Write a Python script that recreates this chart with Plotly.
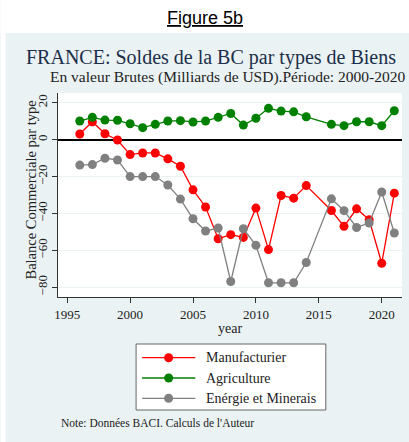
import plotly.graph_objects as go

years = [1996, 1997, 1998, 1999, 2000, 2001, 2002, 2003, 2004, 2005, 2006, 2007, 2008,
         2009, 2010, 2011, 2012, 2013, 2014, 2016, 2017, 2018, 2019, 2020, 2021]
manufacturier = [3.1, 9.7, 3.2, -0.2, -8.1, -7.2, -7.2, -10.4, -14.4, -27.2, -36.5, -53.7, -51.5,
                 -53.0, -37.1, -59.6, -30.3, -31.7, -24.9, -38.4, -47.0, -37.5, -43.4, -67.0, -29.0]
agriculture = [10.1, 12.1, 10.6, 10.5, 8.6, 6.5, 8.3, 10.1, 10.3, 9.6, 10.1, 12.1, 14.2,
               7.9, 11.6, 17.0, 15.5, 15.1, 12.4, 8.3, 7.6, 9.7, 9.7, 7.6, 15.7]
energie = [-13.8, -13.5, -10.1, -11.0, -20.0, -20.0, -20.0, -24.6, -32.2, -42.9, -49.5, -47.9, -76.9,
           -48.3, -57.3, -77.6, -77.6, -77.6, -66.6, -32.1, -38.5, -47.6, -45.2, -28.4, -50.6]
series_names = ["Manufacturier", "Agriculture", "Enérgie et Minerais"]
series_colors = ["#ff0000", "#008000", "#808080"]
yticks = [-80, -60, -40, -20, 0, 20]
xticks = [1995, 2000, 2005, 2010, 2015, 2020]

W, H = 409, 442
L, R, T, B = 57.5, 402, 93, 297


def px(X):
    return (X - L) / (R - L)


def py(Y):
    return (B - Y) / (B - T)


SERIF = "Liberation Serif"
BG = "#eaf2f3"
TXT = "#222222"

fig = go.Figure()
for name, vals, col in zip(series_names, [manufacturier, agriculture, energie], series_colors):
    fig.add_trace(go.Scatter(x=years, y=vals, mode="lines+markers", name=name,
                             line=dict(color=col, width=1.3),
                             marker=dict(color=col, size=9), showlegend=False))

shapes = [
    dict(type="rect", xref="paper", yref="paper", x0=px(0), x1=px(W), y0=py(33), y1=py(0),
         fillcolor="white", line=dict(width=0), layer="below"),
    dict(type="rect", xref="paper", yref="paper", x0=px(0), x1=px(5), y0=py(H), y1=py(0),
         fillcolor="white", line=dict(width=0), layer="below"),
    # legend box
    dict(type="rect", xref="paper", yref="paper", x0=px(135.7), x1=px(325.7), y0=py(410), y1=py(344),
         fillcolor="white", line=dict(color="#666666", width=1)),
]
annotations = []
for i, (name, col) in enumerate(zip(series_names, series_colors)):
    yy = py(357.7 + 20.3 * i)
    shapes.append(dict(type="line", xref="paper", yref="paper", x0=px(141.7), x1=px(195),
                       y0=yy, y1=yy, line=dict(color=col, width=1.3)))
    shapes.append(dict(type="circle", xref="paper", yref="paper", xsizemode="pixel", ysizemode="pixel",
                       xanchor=px(168.3), yanchor=yy, x0=-4.5, x1=4.5, y0=-4.5, y1=4.5,
                       fillcolor=col, line=dict(color=col, width=0)))
    annotations.append(dict(text=name, x=px(204), y=yy, xref="paper", yref="paper", showarrow=False,
                            font=dict(family=SERIF, size=14, color=TXT), xanchor="left", yanchor="middle"))

annotations += [
    dict(text="<u>Figure 5b</u>", x=px(204.5), y=py(18), xref="paper", yref="paper",
         showarrow=False, font=dict(family="Liberation Sans", size=18, color="black"),
         xanchor="center", yanchor="middle"),
    dict(text="FRANCE: Soldes de la BC par types de Biens", x=px(211), y=py(58),
         xref="paper", yref="paper", showarrow=False,
         font=dict(family=SERIF, size=20, color="#1c2f4a"), xanchor="center", yanchor="middle"),
    dict(text="En valeur Brutes (Milliards de USD).Période: 2000-2020", x=px(227.5), y=py(77),
         xref="paper", yref="paper", showarrow=False,
         font=dict(family=SERIF, size=15.5, color=TXT), xanchor="center", yanchor="middle"),
    dict(text="Balance Commerciale par type", x=px(30), y=py(190), xref="paper", yref="paper",
         showarrow=False, textangle=-90, font=dict(family=SERIF, size=14.5, color=TXT),
         xanchor="center", yanchor="middle"),
    dict(text="year", x=px(230), y=py(328), xref="paper", yref="paper", showarrow=False,
         font=dict(family=SERIF, size=14, color=TXT), xanchor="center", yanchor="middle"),
    dict(text="Note: Données BACI. Calculs de l'Auteur", x=px(59), y=py(423), xref="paper",
         yref="paper", showarrow=False, font=dict(family=SERIF, size=11.5, color=TXT),
         xanchor="left", yanchor="middle"),
]

fig.update_layout(
    width=W, height=H,
    margin=dict(l=L, r=W - R, t=T, b=H - B, pad=0),
    paper_bgcolor=BG, plot_bgcolor="white",
    font=dict(family=SERIF, color=TXT, size=13),
    showlegend=False,
    xaxis=dict(range=[1994.27, 2021.61], tickvals=xticks, showgrid=False,
               showline=True, linecolor="#333333", linewidth=1,
               ticks="outside", ticklen=5, tickcolor="#333333",
               zeroline=False, tickfont=dict(size=13)),
    yaxis=dict(range=[-85.3, 25.3], tickvals=yticks, showgrid=True,
               gridcolor=BG, gridwidth=1,
               showline=True, linecolor="#333333", linewidth=1,
               ticks="outside", ticklen=5, tickcolor="#333333",
               tickangle=-90, zeroline=True, zerolinecolor="black",
               zerolinewidth=2, tickfont=dict(size=13)),
    shapes=shapes,
    annotations=annotations,
)

fig.write_html("out.html", config={"displayModeBar": False},
               post_script="document.body.style.margin='0';document.body.style.overflow='hidden';")
